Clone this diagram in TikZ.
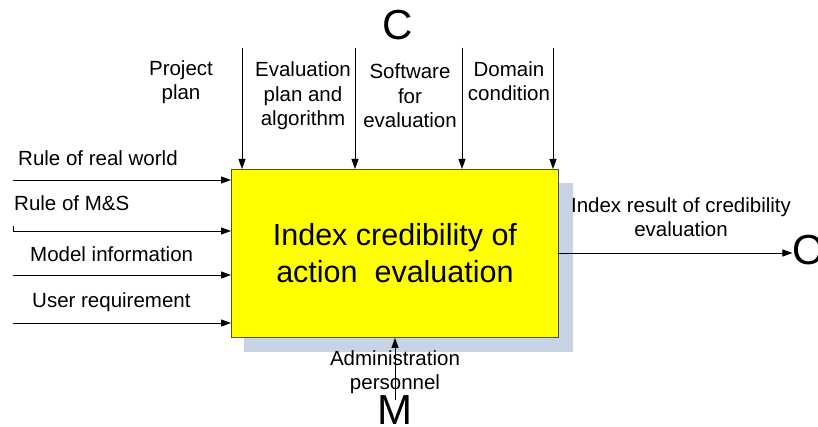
\documentclass[tikz,border=0pt]{standalone}
\usepackage{fontspec}
\setmainfont{Liberation Sans}
\usetikzlibrary{arrows.meta}
\definecolor{boxyellow}{RGB}{255,255,0}
\definecolor{shadowblue}{RGB}{200,212,228}
\begin{document}
\begin{tikzpicture}[x=1pt,y=-1pt,
  flow/.style={line width=0.9pt,-{Triangle[length=10pt,width=7pt]}},
  lbl/.style={font=\fontsize{20.5}{24.5}\selectfont,align=center,inner sep=0pt},
  big/.style={font=\fontsize{42}{42}\selectfont,inner sep=0pt},
]
\useasboundingbox (0,0) rectangle (818,427);
% shadow and activity box
\fill[shadowblue] (244,183) rectangle (573,352);
\node[draw=black!70,line width=0.9pt,fill=boxyellow,minimum width=327pt,minimum height=168pt,
      inner sep=0pt,anchor=north west,align=center,font=\fontsize{30.5}{37}\selectfont]
      (act) at (231,169) {Index credibility of\\action~~evaluation};

% controls
\node[big] (C) at (398,25) {C};
\coordinate (c1) at (242,48);
\coordinate (c2) at (355,48);
\coordinate (c3) at (462,48);
\coordinate (c4) at (553,48);
\draw[flow] (c1) -- (c1 |- act.north);
\draw[flow] (c2) -- (c2 |- act.north);
\draw[flow] (c3) -- (c3 |- act.north);
\draw[flow] (c4) -- (c4 |- act.north);
\node[lbl] (lc1) at (181,82) {Project\\plan};
\node[lbl] (lc2) at (303,96) {Evaluation\\plan and\\algorithm};
\node[lbl] (lc3) at (410,96) {Software\\for\\evaluation};
\node[lbl] (lc4) at (509,81) {Domain\\condition};

% inputs
\coordinate (i1) at (13,180);
\coordinate (i2) at (13,231);
\coordinate (i3) at (13,275);
\coordinate (i4) at (13,323);
\draw[flow] (i1) -- (i1 -| act.west);
\draw[line width=0.9pt] (13,226) -- (i2);
\draw[flow] (i2) -- (i2 -| act.west);
\draw[flow] (i3) -- (i3 -| act.west);
\draw[flow] (i4) -- (i4 -| act.west);
\node[lbl,anchor=west] (li1) at (18,158) {Rule of real world};
\node[lbl,anchor=west] (li2) at (14,203) {Rule of M\&S};
\node[lbl,anchor=west] (li3) at (30,254) {Model information};
\node[lbl,anchor=west] (li4) at (32,302) {User requirement};

% output
\node[big] (O) at (809,250) {O};
\coordinate (o1) at (558,253);
\draw[flow] (o1) -- (O.west |- o1);
\node[lbl] (lo) at (681,217) {Index result of credibility\\evaluation};

% mechanism
\node[big] (M) at (395,410) {M};
\coordinate (m1) at (395,400);
\draw[flow] (m1) -- (m1 |- act.south);
\node[lbl] (lm) at (395,372) {Administration\\personnel};
\end{tikzpicture}
\end{document}
